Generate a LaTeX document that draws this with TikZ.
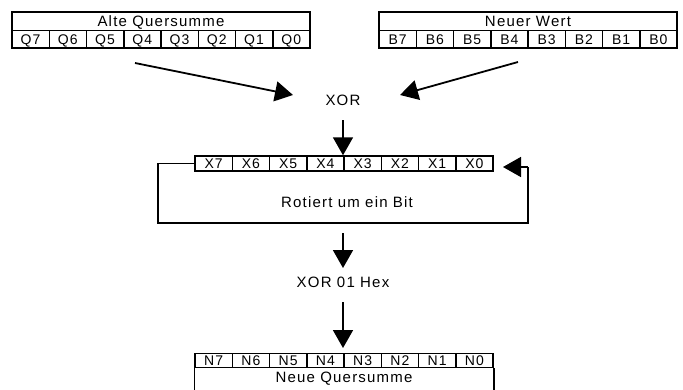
\documentclass[tikz,border=0pt]{standalone}
\usepackage{fontspec}
\setmainfont{Liberation Sans}[LetterSpace=8]
\usetikzlibrary{arrows.meta}
\begin{document}
\begin{tikzpicture}[x=1pt,y=-1pt,
  box/.style={draw, line width=1.5pt, inner sep=0pt, text height=10pt, text depth=0pt, font=\fontsize{14}{16}\selectfont},
  lbl/.style={inner sep=1pt, font=\fontsize{15}{17}\selectfont},
  arr/.style={-{Triangle[length=18pt,width=20pt]}, line width=1.8pt},
  loop/.style={line width=1.5pt}]
\useasboundingbox (0,0) rectangle (683,389);
% top-left register
\node[box, minimum width=298pt, minimum height=18.5pt, font=\fontsize{15}{17}\selectfont] (altehead) at (161,21.25) {Alte Quersumme};
\foreach \i in {0,...,7}{
  \pgfmathtruncatemacro{\b}{7-\i}
  \node[box, minimum width=37.25pt, minimum height=17.5pt] (q\b) at ({12+37.25*(\i+0.5)},39.25) {Q\b};
}
% top-right register
\node[box, minimum width=298pt, minimum height=18.5pt, font=\fontsize{15}{17}\selectfont] (neuhead) at (528,21.25) {Neuer Wert};
\foreach \i in {0,...,7}{
  \pgfmathtruncatemacro{\b}{7-\i}
  \node[box, minimum width=37.25pt, minimum height=17.5pt] (b\b) at ({379+37.25*(\i+0.5)},39.25) {B\b};
}
% X register
\foreach \i in {0,...,7}{
  \pgfmathtruncatemacro{\b}{7-\i}
  \node[box, minimum width=37.25pt, minimum height=15pt] (x\b) at ({195+37.25*(\i+0.5)},163.5) {X\b};
}
% N register
\foreach \i in {0,...,7}{
  \pgfmathtruncatemacro{\b}{7-\i}
  \node[box, minimum width=37.25pt, minimum height=14pt] (n\b) at ({195+37.25*(\i+0.5)},360.5) {N\b};
}
\draw[line width=1.5pt] (n7.south west) -- ++(0,30);
\draw[line width=1.5pt] (n0.south east) -- ++(0,30);
\node[lbl] (neuquer) at (344,378.5) {Neue Quersumme};
% labels
\node[lbl] (xor) at (343,100) {XOR};
\node[lbl] (rot) at (347,202) {Rotiert um ein Bit};
\node[lbl] (xorhex) at (343,282) {XOR 01 Hex};
% coordinates
\coordinate (ls) at (135,63);
\coordinate (lt) at (293,95);
\coordinate (rs) at (518,62);
\coordinate (rt) at (400,95);
\coordinate (d1s) at (343,120);
\coordinate (d2s) at (343,233);
\coordinate (d2t) at (343,268);
\coordinate (d3s) at (343,302);
\coordinate (d3t) at (343,348);
\coordinate (lpl) at (158,223);
\coordinate (lpr) at (528,223);
\coordinate (lpt) at (503,167);
% arrows
\draw[arr] (ls) -- (lt);
\draw[arr] (rs) -- (rt);
\draw[arr] (d1s) -- (d1s |- x4.north);
\draw[arr] (d2s) -- (d2t);
\draw[arr] (d3s) -- (d3t);
% rotation loop
\draw[loop] (x7.west) -- (x7.west -| lpl) -- (lpl) -- (lpr) -- (lpr |- lpt);
\draw[arr, line width=1.5pt] (lpr |- lpt) -- (lpt);
\end{tikzpicture}
\end{document}
